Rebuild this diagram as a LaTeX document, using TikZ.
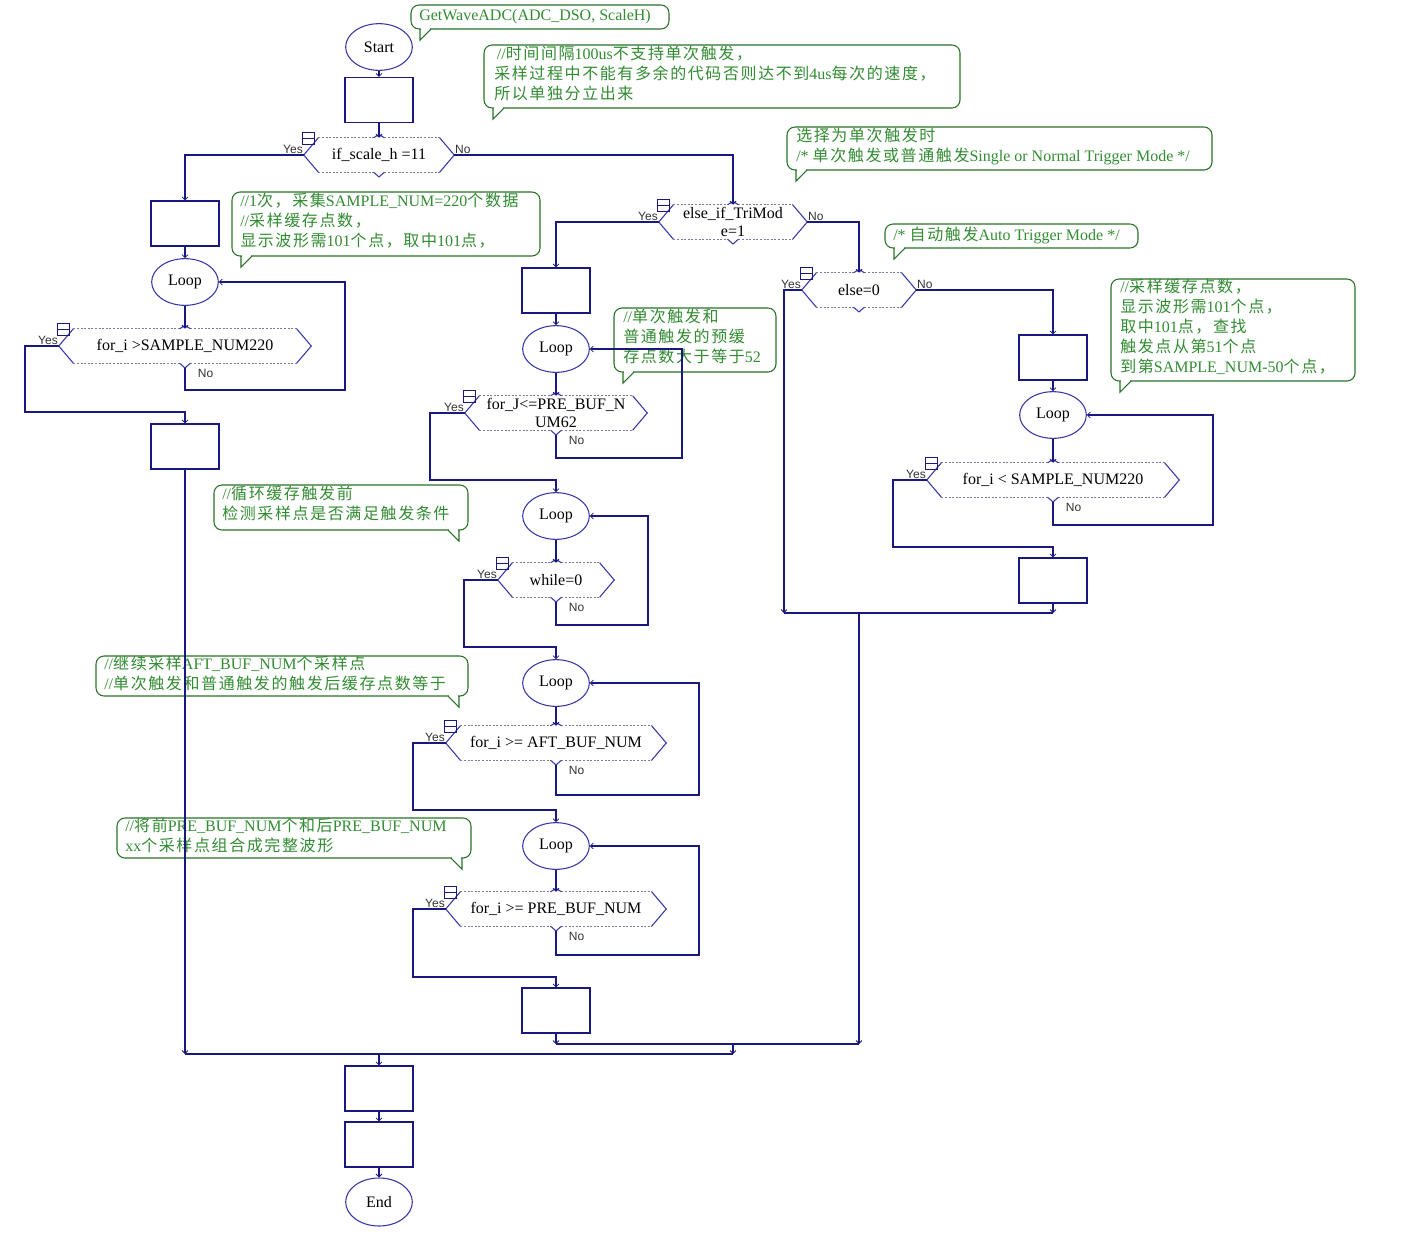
\documentclass[tikz,border=0pt]{standalone}
\usepackage{fontspec}
\setmainfont{Liberation Serif}
\newfontfamily\cjkfont[LetterSpace=10]{Noto Sans CJK SC}
\newfontfamily\lsans{Liberation Sans}
\newcommand\zh[1]{{\cjkfont #1}}
\usetikzlibrary{arrows.meta,shapes.geometric}
\definecolor{navy}{RGB}{25,25,125}
\definecolor{ellc}{RGB}{55,55,170}
\definecolor{decdash}{RGB}{120,120,160}
\definecolor{cgreen}{RGB}{40,115,40}
\definecolor{tgreen}{RGB}{50,140,50}
\tikzset{
 conn/.style={draw=navy, line width=0.9pt, -{Straight Barb[length=2.2pt,width=4.5pt,line width=0.6pt]}},
 plain/.style={draw=navy, line width=0.9pt},
 boxn/.style={draw=navy, line width=1pt, rectangle, minimum width=51pt, minimum height=33.75pt, inner sep=0},
 elln/.style={draw=ellc, line width=0.8pt, ellipse, minimum width=50pt, minimum height=35pt, inner sep=0, font=\fontsize{12}{14}\selectfont},
 decn/.style={inner sep=0, minimum height=25.5pt, align=center, font=\fontsize{12}{13.5}\selectfont},
 decs/.style={draw=ellc, line width=0.8pt},
 decd/.style={draw=decdash, line width=0.5pt, dash pattern=on 1.5pt off 1.2pt},
 iconst/.style={draw=navy, line width=0.8pt},
 yn/.style={inner sep=0.5pt, font=\lsans\fontsize{9}{10}\selectfont, text=black!80},
 cbord/.style={draw=cgreen, line width=0.8pt},
 ctext/.style={inner sep=0, anchor=north west, align=left, text=tgreen, font=\fontsize{12}{15}\selectfont},
}
% decision: name, cx, cy, width(px), text
\newcommand\dec[5]{%
 \node[decn, minimum width=#4*0.75pt] (#1) at (#2,#3) {#5};
 \draw[decs] ([xshift=11pt]#1.north west) -- (#1.west) -- ([xshift=11pt]#1.south west);
 \draw[decs] ([xshift=-11pt]#1.north east) -- (#1.east) -- ([xshift=-11pt]#1.south east);
 \draw[decd] ([xshift=11pt]#1.north west) -- ([xshift=-4pt]#1.north);
 \draw[decd] ([xshift=4pt]#1.north) -- ([xshift=-11pt]#1.north east);
 \draw[decd] ([xshift=11pt]#1.south west) -- ([xshift=-4pt]#1.south);
 \draw[decd] ([xshift=4pt]#1.south) -- ([xshift=-11pt]#1.south east);
 \draw[decs] ([xshift=-4pt]#1.north) -- ([yshift=2.5pt]#1.north) -- ([xshift=4pt]#1.north);
 \draw[decs] ([xshift=-4pt]#1.south) -- ([yshift=-3.5pt]#1.south) -- ([xshift=4pt]#1.south);
 \draw[iconst] ([xshift=-0.6pt,yshift=3.9pt]#1.north west) rectangle ([xshift=8.4pt,yshift=-5.1pt]#1.north west);
 \draw[iconst] ([xshift=-0.6pt,yshift=-0.6pt]#1.north west) -- ([xshift=8.4pt,yshift=-0.6pt]#1.north west);
 \node[yn, anchor=south east] (#1-yes) at (#1.west) {Yes};
}
\newcommand\noside[1]{\node[yn, anchor=south west] (#1-no) at (#1.east) {No};}
\newcommand\nobelow[1]{\node[yn, anchor=north west] (#1-no) at ([xshift=9pt,yshift=-3.5pt]#1.south) {No};}
\newcommand\calloutL[4]{%
 \draw[cbord, rounded corners=6pt] (#1,#2) rectangle (#3,#4);
 \draw[white, line width=1.6pt] (#1+9.7,#4) -- (#1+19.3,#4);
 \draw[cbord] (#1+9,#4) -- (#1+9,#4+11) -- (#1+20,#4);
}
\newcommand\calloutR[4]{%
 \draw[cbord, rounded corners=6pt] (#1,#2) rectangle (#3,#4);
 \draw[white, line width=1.6pt] (#3-19.3,#4) -- (#3-9.7,#4);
 \draw[cbord] (#3-20,#4) -- (#3-9,#4+11) -- (#3-9,#4);
}
\begin{document}
\begin{tikzpicture}[x=0.75pt,y=-0.75pt]
\fill[white] (0,0) rectangle (1411,1243);
\useasboundingbox (0,0) rectangle (1411,1243);
% ---------------- callouts
\calloutL{411}{5}{669}{29}
\node[ctext, anchor=west] (c1) at (419,17) {GetWaveADC(ADC\_DSO, ScaleH)};
\calloutL{484}{45}{960}{108}
\node[ctext] (c2) at (494,46) {\,//\zh{时间间隔}100us\zh{不支持单次触发，}\\\zh{采样过程中不能有多余的代码否则达不到}4us\zh{每次的速度，}\\\zh{所以单独分立出来}};
\calloutL{787}{127}{1212}{170}
\node[ctext] (c3) at (796,128) {\zh{选择为单次触发时}\\/* \zh{单次触发或普通触发}Single or Normal Trigger Mode */};
\calloutL{885}{224}{1138}{248}
\node[ctext, anchor=west] (c4) at (893,235) {/* \zh{自动触发}Auto Trigger Mode */};
\calloutL{1111}{279}{1355}{381}
\node[ctext] (c5) at (1120,279) {//\zh{采样缓存点数，}\\\zh{显示波形需}101\zh{个点，}\\\zh{取中}101\zh{点，查找}\\\zh{触发点从第}51\zh{个点}\\\zh{到第}SAMPLE\_NUM-50\zh{个点，}};
\calloutL{232}{192}{540}{256}
\node[ctext] (c6) at (240,193) {//1\zh{次，采集}SAMPLE\_NUM=220\zh{个数据}\\//\zh{采样缓存点数，}\\\zh{显示波形需}101\zh{个点，取中}101\zh{点，}};
\calloutL{614}{308}{776}{372}
\node[ctext] (c7) at (623,309) {//\zh{单次触发和}\\\zh{普通触发的预缓}\\\zh{存点数大于等于}52};
\calloutR{214}{485}{468}{530}
\node[ctext] (c8) at (222,486) {//\zh{循环缓存触发前}\\\zh{检测采样点是否满足触发条件}};
\calloutR{96}{656}{468}{696}
\node[ctext] (c9) at (104,656) {//\zh{继续采样}AFT\_BUF\_NUM\zh{个采样点}\\//\zh{单次触发和普通触发的触发后缓存点数等于}};
\calloutR{117}{818}{471}{858}
\node[ctext] (c10) at (125,818) {//\zh{将前}PRE\_BUF\_NUM\zh{个和后}PRE\_BUF\_NUM\\xx\zh{个采样点组合成完整波形}};
% ---------------- nodes
\node[elln] (start) at (379,47) {Start};
\node[boxn] (bA1) at (379,100) {};
\dec{d1}{379}{155}{150}{if\_scale\_h =11}\noside{d1}
% left column
\node[boxn] (bL1) at (185,223.5) {};
\node[elln] (lpL) at (185,282) {Loop};
\dec{dL}{185}{346}{252}{for\_i >SAMPLE\_NUM220}\nobelow{dL}
\node[boxn] (bL2) at (185,446.5) {};
% middle
\dec{d2}{733}{222}{148}{else\_if\_TriMod\\e=1}\noside{d2}
\node[boxn] (bM1) at (556,290.5) {};
\node[elln] (lpM1) at (556,349) {Loop};
\dec{dM1}{556}{413}{182}{for\_J<=PRE\_BUF\_N\\UM62}\nobelow{dM1}
\node[elln] (lpM2) at (556,516) {Loop};
\dec{dM2}{556}{580}{116}{while=0}\nobelow{dM2}
\node[elln] (lpM3) at (556,683) {Loop};
\dec{dM3}{556}{743}{220}{for\_i >= AFT\_BUF\_NUM}\nobelow{dM3}
\node[elln] (lpM4) at (556,846) {Loop};
\dec{dM4}{556}{909}{220}{for\_i >= PRE\_BUF\_NUM}\nobelow{dM4}
\node[boxn] (bM2) at (556,1010.5) {};
% right
\dec{d3}{859}{290}{114}{else=0}\noside{d3}
\node[boxn] (bR1) at (1053,357.5) {};
\node[elln] (lpR) at (1053,415) {Loop};
\dec{dR}{1053}{480}{252}{for\_i < SAMPLE\_NUM220}\nobelow{dR}
\node[boxn] (bR2) at (1053,580.5) {};
% bottom
\node[boxn] (bB1) at (379,1088.5) {};
\node[boxn] (bB2) at (379,1144.5) {};
\node[elln, minimum height=36pt] (end) at (379,1202) {End};
% ---------------- connectors
\draw[conn] (start.south) -- (bA1.north);
\draw[conn] (bA1.south) -- (d1.north);
\draw[conn] (d1.west) -| (bL1.north);
\draw[conn] (d1.east) -| (d2.north);
% left
\draw[conn] (bL1.south) -- (lpL.north);
\draw[conn] (lpL.south) -- (dL.north);
\coordinate (rL) at (345,390);
\draw[conn] ([yshift=-3.5pt]dL.south) |- (rL) |- (lpL.east);
\coordinate (yL) at (25,412);
\draw[conn] (dL.west) -| (yL) -| (bL2.north);
% middle
\draw[conn] (d2.west) -| (bM1.north);
\draw[conn] (bM1.south) -- (lpM1.north);
\draw[conn] (lpM1.south) -- (dM1.north);
\coordinate (rM1) at (682,458);
\draw[conn] ([yshift=-3.5pt]dM1.south) |- (rM1) |- (lpM1.east);
\coordinate (yM1) at (430,480);
\draw[conn] (dM1.west) -| (yM1) -| (lpM2.north);
\draw[conn] (lpM2.south) -- (dM2.north);
\coordinate (rM2) at (648,625);
\draw[conn] ([yshift=-3.5pt]dM2.south) |- (rM2) |- (lpM2.east);
\coordinate (yM2) at (464,647);
\draw[conn] (dM2.west) -| (yM2) -| (lpM3.north);
\draw[conn] (lpM3.south) -- (dM3.north);
\coordinate (rM3) at (699,795);
\draw[conn] ([yshift=-3.5pt]dM3.south) |- (rM3) |- (lpM3.east);
\coordinate (yM3) at (413,810);
\draw[conn] (dM3.west) -| (yM3) -| (lpM4.north);
\draw[conn] (lpM4.south) -- (dM4.north);
\coordinate (rM4) at (699,955);
\draw[conn] ([yshift=-3.5pt]dM4.south) |- (rM4) |- (lpM4.east);
\coordinate (yM4) at (413,977);
\draw[conn] (dM4.west) -| (yM4) -| (bM2.north);
% right
\draw[conn] (d2.east) -| (d3.north);
\draw[conn] (d3.east) -| (bR1.north);
\draw[conn] (bR1.south) -- (lpR.north);
\draw[conn] (lpR.south) -- (dR.north);
\coordinate (rR) at (1213,525);
\draw[conn] ([yshift=-3.5pt]dR.south) |- (rR) |- (lpR.east);
\coordinate (yR) at (893,547);
\draw[conn] (dR.west) -| (yR) -| (bR2.north);
\coordinate (jRl) at (784,613);
\coordinate (jR) at (1053,613);
\coordinate (jRm) at (859,613);
\draw[conn] (d3.west) -| (jRl);
\draw[conn] (bR2.south) -- (jR);
\draw[plain] (jRl) -- (jR);
% merges
\coordinate (jM) at (859,1044);
\coordinate (jMl) at (556,1044);
\coordinate (jMm) at (733,1044);
\coordinate (jB) at (733,1054);
\coordinate (jBl) at (185,1054);
\coordinate (jBm) at (379,1054);
\draw[conn] (jRm) -- (jM);
\draw[conn] (bM2.south) -- (jMl);
\draw[plain] (jMl) -- (jM);
\draw[conn] (jMm) -- (jB);
\draw[conn] (bL2.south) -- (jBl);
\draw[plain] (jBl) -- (jB);
\draw[conn] (jBm) -- (bB1.north);
\draw[conn] (bB1.south) -- (bB2.north);
\draw[conn] (bB2.south) -- (end.north);
\end{tikzpicture}
\end{document}
